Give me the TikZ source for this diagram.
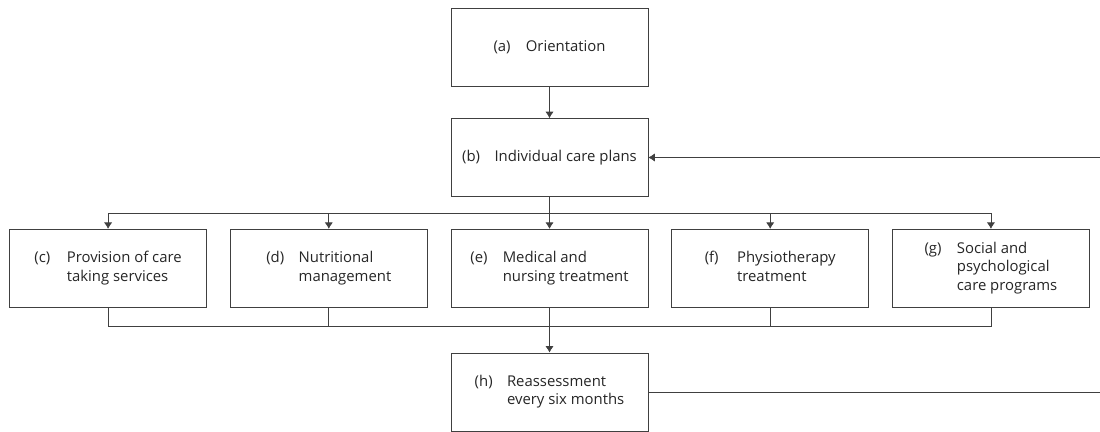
\documentclass[tikz,border=0pt]{standalone}
\usepackage{fontspec}
\setmainfont{Open Sans}
\usetikzlibrary{positioning,calc,arrows.meta}

% label in a fixed column, text lines hang after it
\newcommand{\stagetext}[2]{\makebox[0.97cm][l]{#1}\begin{tabular}[t]{@{}l@{}}#2\end{tabular}}

\begin{document}
\begin{tikzpicture}[node distance=0.69cm, >={Latex[length=5.5pt,width=7pt]},
		line width=0.6pt,
		stage/.style={rectangle,draw=black!75,minimum width=5.91cm,minimum height=2.34cm,
			inner sep=0pt,font=\fontsize{12.7}{15.9}\selectfont,text=black!85},
		link/.style={draw=black!75}]
		
		\useasboundingbox (0,0) rectangle (33,-12.93);
		
		\node[stage] (b) at (16.485,-4.725) {\stagetext{(b)}{Individual care plans}};
		\node[stage] (a) [above=0.93cm of b] {\stagetext{(a)}{Orientation}};
		\node[stage] (e) [below=0.96cm of b] {\stagetext{(e)}{Medical and\\nursing treatment}};
		\node[stage] (d) [left=of e] {\stagetext{(d)}{Nutritional\\management}};
		\node[stage] (c) [left=of d] {\stagetext{(c)}{Provision of care\\taking services}};
		\node[stage] (f) [right=of e] {\stagetext{(f)}{Physiotherapy\\treatment}};
		\node[stage] (g) [right=of f] {\stagetext{(g)}{Social and\\psychological\\care programs}};
		\node[stage] (h) [below=1.35cm of e] {\stagetext{(h)}{Reassessment\\every six months}};
		
		\coordinate (split) at ($(b.south)!0.5!(e.north)$);
		\coordinate (join) at ($(e.south)+(0,-0.57)$);
		\coordinate (back) at (33.1,0);
		
		\draw[->,link] (a) -- (b);
		\draw[->,link] (b) -- (e);
		\draw[->,link] (split) -| (c.north);
		\draw[->,link] (split) -| (d.north);
		\draw[->,link] (split) -| (f.north);
		\draw[->,link] (split) -| (g.north);
		
		\draw[link] (c.south) |- (join) -| (g.south);
		\draw[link] (d.south) -- (d.south |- join);
		\draw[link] (f.south) -- (f.south |- join);
		\draw[->,link] (e) -- (h);
		
		% reassessment feeds back into the care plans
		\draw[->,link] (h.east) -- (h.east -| back) |- (b.east);
		\end{tikzpicture}
\end{document}
